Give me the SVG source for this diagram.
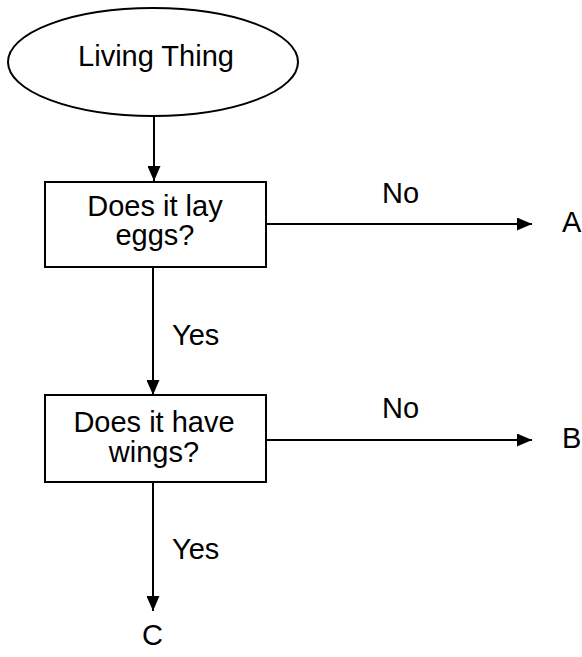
<svg xmlns="http://www.w3.org/2000/svg" width="582" height="657" viewBox="0 0 582 657">
<style>
.shape{fill:#fff;stroke:#000;stroke-width:2}
.t{font-family:"Liberation Sans",Arial,sans-serif;font-size:29px;fill:#000}
.c{text-anchor:middle}
.line{stroke:#000;stroke-width:2;fill:none}
</style>
<defs>
<marker id="ah" markerWidth="15" markerHeight="13" refX="15" refY="6.5" orient="auto" markerUnits="userSpaceOnUse">
<path d="M0,0 L15,6.5 L0,13 Z" fill="#000"/>
</marker>
</defs>
<rect width="582" height="657" fill="#fff"/>
<g id="connectors">
<line class="line" x1="154" y1="116" x2="154" y2="181" marker-end="url(#ah)"/>
<line class="line" x1="266" y1="224" x2="532" y2="224" marker-end="url(#ah)"/>
<line class="line" x1="153" y1="267" x2="153" y2="395" marker-end="url(#ah)"/>
<line class="line" x1="266" y1="440" x2="532" y2="440" marker-end="url(#ah)"/>
<line class="line" x1="153" y1="482" x2="153" y2="611" marker-end="url(#ah)"/>
<text class="t" x="382" y="203">No</text>
<text class="t" x="172" y="345">Yes</text>
<text class="t" x="382" y="418">No</text>
<text class="t" x="172" y="559">Yes</text>
</g>
<g id="start">
<ellipse class="shape" cx="153" cy="62" rx="145" ry="54"/>
<text class="t c" x="156" y="66">Living Thing</text>
</g>
<g id="q1">
<rect class="shape" x="45" y="182" width="221" height="85"/>
<text class="t c" x="155" y="216">Does it lay</text>
<text class="t c" x="155" y="245">eggs?</text>
</g>
<g id="q2">
<rect class="shape" x="45" y="395" width="221" height="87"/>
<text class="t c" x="154" y="432">Does it have</text>
<text class="t c" x="154" y="462">wings?</text>
</g>
<g id="A"><text class="t" x="562" y="232">A</text></g>
<g id="B"><text class="t" x="562" y="448">B</text></g>
<g id="C"><text class="t" x="142" y="645">C</text></g>
</svg>
